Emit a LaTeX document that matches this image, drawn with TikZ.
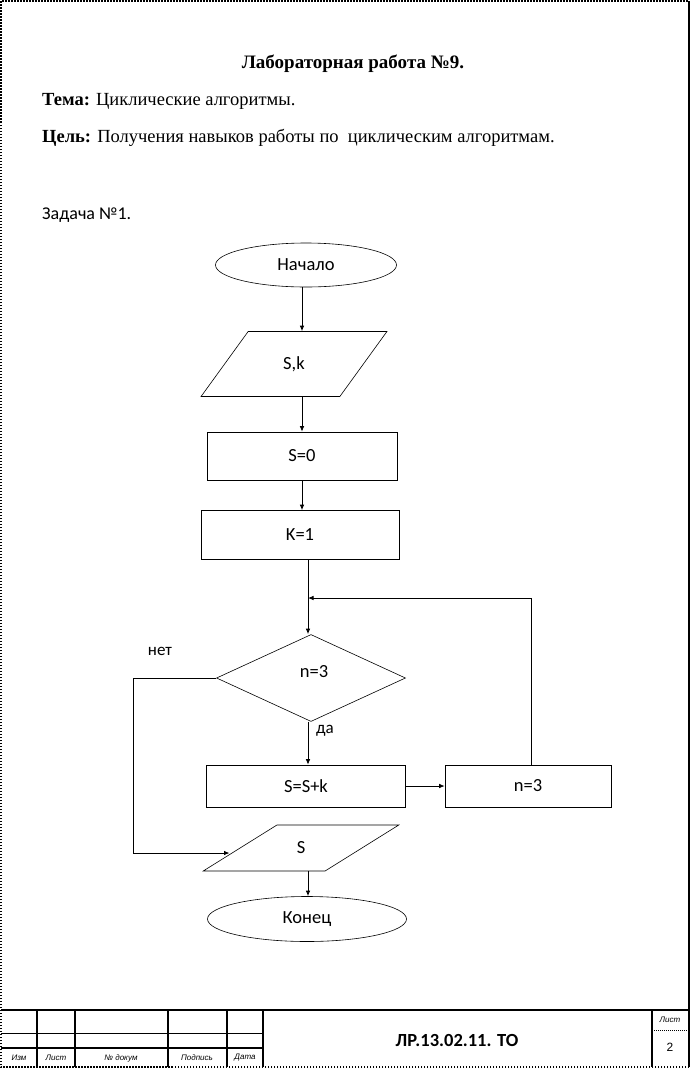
\documentclass[tikz,border=0pt]{standalone}
\usepackage{fontspec}
\setmainfont{Liberation Serif}
\newfontfamily\calibri{Carlito}
\newfontfamily\stampfont{Liberation Sans}
\usepackage{tikz}
\usetikzlibrary{arrows.meta,positioning,shapes.geometric}

\begin{document}
\begin{tikzpicture}[x=1pt,y=-1pt,
        blockbox/.style={draw,line width=0.6pt,rectangle,inner sep=0pt,font=\calibri\fontsize{18.5}{20}\selectfont},
        termbox/.style={draw,line width=0.6pt,ellipse,inner sep=0pt,font=\calibri\fontsize{18.5}{20}\selectfont},
        iobox/.style={draw,line width=0.6pt,trapezium,trapezium stretches=true,inner sep=0pt,font=\calibri\fontsize{18.5}{20}\selectfont},
        decbox/.style={draw,line width=0.6pt,diamond,inner sep=0pt},
        arr/.style={line width=0.8pt,-{Latex[length=5.5pt,width=4.5pt]}},
        frameline/.style={line width=1.6pt},
        stamp/.style={font=\stampfont\itshape\fontsize{8}{9}\selectfont,inner sep=0pt}]
    \useasboundingbox (0,0) rectangle (691,1069);
    % page frame
    \draw[frameline,dash pattern=on 1.5pt off 1.5pt] (689,1067) -- (1,1067) -- (1,1) -- (689,1);
    \draw[frameline] (689,1) -- (689,1067);

    % heading
    \node[font=\bfseries\fontsize{19}{21}\selectfont,inner sep=0pt] (title) at (353,64) {Лабораторная работа №9.};
    \node[anchor=west,font=\fontsize{18.5}{20}\selectfont,inner sep=0pt] (theme) at (42,101) {\textbf{Тема:} Циклические алгоритмы.};
    \node[anchor=west,font=\fontsize{18.5}{20}\selectfont,inner sep=0pt] (goal) at (42,138) {\textbf{Цель:} Получения навыков работы по\ \ циклическим алгоритмам.};
    \node[anchor=west,font=\calibri\fontsize{18}{20}\selectfont,inner sep=0pt] (task) at (42,215) {Задача №1.};

    % flowchart
    \node[termbox,minimum width=181,minimum height=44] (start) at (306,265) {Начало};
    \node[iobox,trapezium left angle=54,trapezium right angle=126,minimum width=186,minimum height=65] (input) at (294,364) {S,k};
    \node[blockbox,minimum width=190,minimum height=48] (szero) at (302,456) {S=0};
    \node[blockbox,minimum width=198,minimum height=49] (kone) at (300,535) {K=1};
    \node[decbox,minimum width=189,minimum height=87] (check) at (311,678) {};
    \node[font=\calibri\fontsize{18.5}{20}\selectfont] (checktxt) at (314,672) {n=3};
    \node[blockbox,minimum width=199,minimum height=42] (sum) at (306,786) {S=S+k};
    \node[blockbox,minimum width=166,minimum height=42] (incr) at (528,786) {n=3};
    \node[iobox,trapezium left angle=43,trapezium right angle=137,minimum width=196,minimum height=46] (output) at (301,848) {S};
    \node[termbox,minimum width=199,minimum height=45] (finish) at (307,919) {Конец};
    \node[font=\calibri\fontsize{17}{19}\selectfont] (nolbl) at (160,651) {нет};
    \node[font=\calibri\fontsize{17}{19}\selectfont] (yeslbl) at (325,731) {да};

    \coordinate (join) at (308,598);
    \coordinate (noturn) at (133,678);

    \draw[arr] (start.south -| 302,0) -- (input.north -| 302,0);
    \draw[arr] (input.south -| szero.north) -- (szero.north);
    \draw[arr] (szero.south) -- (szero.south |- kone.north);
    \draw[arr] (join |- kone.south) -- (join |- check.north);
    \draw[arr] (check.south -| join) -- (sum.north -| join);
    \draw[arr] (sum.east) -- (incr.west);
    \draw[arr] (incr.north -| 531,0) |- (join);
    \draw[arr] (check.west) -- (noturn) |- ([xshift=-10pt,yshift=-5pt]output.west);
    \draw[arr] (output.south -| join) -- (finish.north -| join);

    % title block
    \draw[frameline] (1,1010) -- (689,1010);
    \foreach \x in {37,75,168,227,263,652}{
            \draw[frameline] (\x,1010) -- (\x,1067);
        }
    \draw[line width=0.8pt] (1,1033) -- (263,1033);
    \draw[frameline] (1,1048) -- (263,1048);
    \draw[line width=0.8pt,dash pattern=on 1pt off 1pt] (652,1030) -- (689,1030);
    \node[stamp] (izm) at (19,1058) {Изм};
    \node[stamp] (list) at (56,1058) {Лист};
    \node[stamp] (ndoc) at (121,1058) {№ докум};
    \node[stamp] (sign) at (197,1058) {Подпись};
    \node[stamp] (date) at (245,1058) {Дата};
    \node[stamp] (sheet) at (670,1020) {Лист};
    \node[font=\stampfont\fontsize{12}{13}\selectfont] (sheetno) at (670,1047) {2};
    \node[font=\calibri\bfseries\fontsize{18.5}{20}\selectfont] (code) at (457,1040) {ЛР.13.02.11. ТО};
\end{tikzpicture}
\end{document}
